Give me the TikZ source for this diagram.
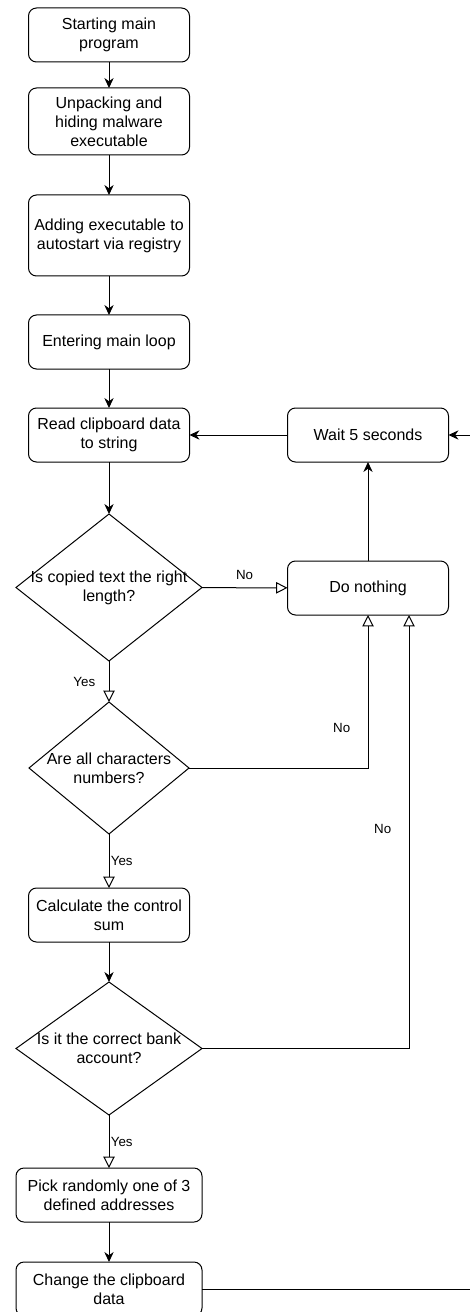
\documentclass[tikz,border=0pt]{standalone}
\usepackage{fontspec}
\setmainfont{Liberation Sans}
\usetikzlibrary{shapes.geometric,arrows.meta,positioning}

\begin{document}
\begin{tikzpicture}[every node/.style={font=\fontsize{12pt}{14.3pt}\selectfont,align=center},
  proc/.style={draw,rounded corners=6pt,line width=0.75pt,minimum width=120.75pt,
    minimum height=40.5pt,inner sep=0pt,outer sep=0pt},
  cond/.style={draw,shape=diamond,line width=0.75pt,inner sep=0pt,inner xsep=-8pt,outer sep=0pt},
  lbl/.style={font=\fontsize{10pt}{12pt}\selectfont,inner sep=1pt},
  go/.style={-{Stealth[length=7.5pt,width=7pt]},line width=0.75pt},
  hollow/.style={-{Triangle[open,length=8.5pt,width=8.5pt]},line width=0.75pt}]
\useasboundingbox (0,0) rectangle (352.5pt,-984pt);
% main column
\node[proc] (start) at (81.75pt,-26.25pt) {Starting main\\program};
\node[proc,minimum height=50.25pt,below=19.5pt of start] (unpack) {Unpacking and\\hiding malware\\executable};
\node[proc,minimum height=60.75pt,below=30pt of unpack] (autorun) {Adding executable to\\autostart via registry};
\node[proc,below=29.25pt of autorun] (loop) {Entering main loop};
\node[proc,below=29.25pt of loop] (read) {Read clipboard data\\to string};
\node[cond,minimum width=139.5pt,minimum height=110.25pt,aspect=1.27,
  below=39pt of read] (len) {Is copied text the right\\length?};
\node[cond,minimum width=120pt,minimum height=99pt,aspect=1.21,
  below=30.75pt of len] (digits) {Are all characters\\numbers?};
\node[proc,below=40.5pt of digits] (sum) {Calculate the control\\sum};
\node[cond,minimum width=139.5pt,minimum height=99.75pt,aspect=1.4,
  below=30pt of sum] (bank) {Is it the correct bank\\account?};
\node[proc,minimum width=139.5pt,below=39.75pt of bank] (pick) {Pick randomly one of 3\\defined addresses};
\node[proc,minimum width=139.5pt,below=30pt of pick] (swap) {Change the clipboard\\data};
% right column
\node[proc,right=73.5pt of read] (wait) {Wait 5 seconds};
\node[proc,below=74.25pt of wait] (idle) {Do nothing};

\draw[go] (start) -- (unpack);
\draw[go] (unpack) -- (autorun);
\draw[go] (autorun) -- (loop);
\draw[go] (loop) -- (read);
\draw[go] (read) -- (len);
\draw[hollow] (len) -- node[lbl,left=9pt]{Yes} (digits);
\draw[hollow] (digits) -- node[lbl,right=0pt]{Yes} (sum);
\draw[go] (sum) -- (bank);
\draw[hollow] (bank) -- node[lbl,right=0pt]{Yes} (pick);
\draw[go] (pick) -- (swap);
% "no" branches
\draw[hollow] (len) -- node[lbl,above=5pt]{No} (idle);
\draw[hollow] (digits) -| node[lbl,pos=0.63,left=12pt]{No} (idle);
\draw[hollow] (bank) -| node[lbl,pos=0.753,left=12pt]{No} ([xshift=30.75pt]idle.south);
% loop back
\draw[go] (idle) -- (wait);
\draw[go] (wait) -- (read);
\draw[go] (swap.east) -- ++(208.5pt,0) |- (wait.east);
\end{tikzpicture}
\end{document}
